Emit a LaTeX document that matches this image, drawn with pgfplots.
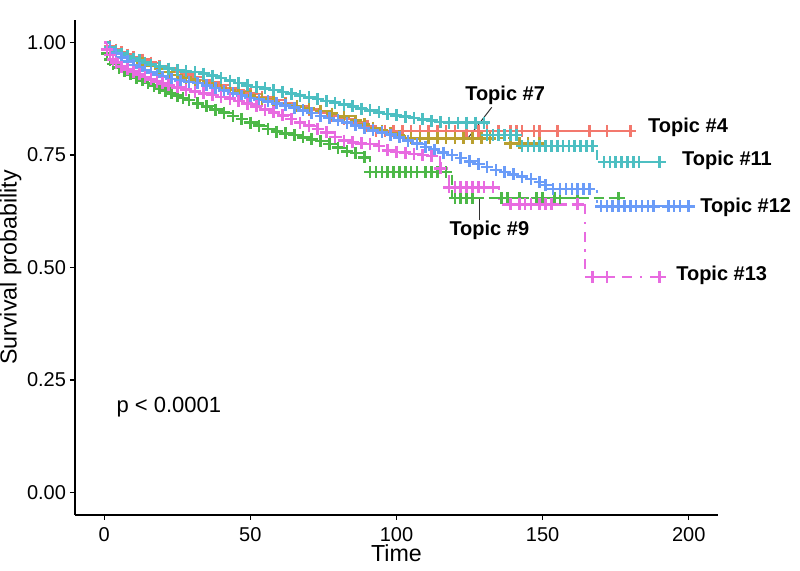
\documentclass[border=0pt]{standalone}
\usepackage{fontspec}
\setmainfont{Liberation Sans}
\usepackage{pgfplots}
\usepackage{pgfplotstable}
\pgfplotsset{compat=1.18}
\definecolor{cA}{HTML}{F3786D}
\definecolor{cB}{HTML}{B9A030}
\definecolor{cC}{HTML}{4DB848}
\definecolor{cD}{HTML}{4DBFC2}
\definecolor{cE}{HTML}{6B9CF8}
\definecolor{cF}{HTML}{E86BE0}

% Topic #4
\pgfplotstableread{
t s c
0 1.000 0
2 0.992 1
4 0.984 1
6 0.978 1
8 0.973 1
10 0.968 1
13 0.962 1
16 0.955 1
19 0.948 1
22 0.942 1
25 0.935 1
28 0.929 1
31 0.923 1
34 0.917 1
37 0.911 1
40 0.905 1
43 0.899 1
46 0.893 1
50 0.886 1
54 0.879 1
58 0.872 1
62 0.865 1
66 0.858 1
70 0.851 1
74 0.844 1
78 0.837 1
82 0.830 1
86 0.822 1
90 0.814 1
93 0.803 1
96 0.803 1
99 0.803 1
102 0.803 1
105 0.803 1
108 0.803 1
111 0.803 1
114 0.803 1
117 0.803 1
120 0.803 1
124 0.803 1
128 0.803 1
131 0.803 1
135 0.803 1
139 0.803 1
141 0.803 1
143 0.803 1
147 0.803 1
149 0.803 1
155 0.803 1
166 0.803 1
172 0.803 1
180 0.803 1
}\tfour

% Topic #7
\pgfplotstableread{
t s c
0 1.000 0
2 0.990 1
4 0.982 1
6 0.975 1
8 0.968 1
10 0.962 1
13 0.955 1
16 0.948 1
19 0.941 1
22 0.934 1
25 0.928 1
28 0.922 1
31 0.916 1
34 0.910 1
37 0.904 1
40 0.899 1
43 0.894 1
46 0.889 1
50 0.882 1
54 0.875 1
58 0.868 1
62 0.863 1
66 0.858 1
70 0.853 1
74 0.848 1
78 0.842 1
82 0.836 1
86 0.826 1
89 0.818 1
92 0.810 1
95 0.804 1
98 0.798 1
101 0.793 1
105 0.788 1
108 0.787 1
111 0.787 1
114 0.787 1
117 0.787 1
120 0.787 1
123 0.787 1
126 0.787 1
129 0.787 1
132 0.787 1
139 0.776 1
142 0.776 1
145 0.776 1
149 0.776 1
}\tseven

% Topic #9
\pgfplotstableread{
t s c
0 1.000 0
1 0.975 1
2 0.962 1
3 0.952 1
5 0.944 1
7 0.936 1
9 0.929 1
11 0.922 1
13 0.916 1
15 0.910 1
17 0.904 1
19 0.898 1
21 0.892 1
23 0.887 1
25 0.882 1
27 0.877 1
29 0.872 1
32 0.865 1
35 0.858 1
38 0.851 1
41 0.844 1
44 0.837 1
47 0.830 1
50 0.822 1
53 0.815 1
56 0.808 1
59 0.802 1
62 0.798 1
65 0.794 1
68 0.789 1
71 0.785 1
74 0.781 1
77 0.774 1
80 0.766 1
83 0.758 1
86 0.754 1
89 0.745 1
91 0.712 1
93 0.712 1
95 0.712 1
97 0.712 1
99 0.712 1
101 0.712 1
103 0.712 1
105 0.712 1
107 0.712 1
110 0.712 1
112 0.712 1
114 0.712 1
117 0.712 1
119 0.654 0
120 0.654 1
122 0.654 1
124 0.654 1
126 0.654 1
136 0.654 1
138 0.654 1
142 0.654 1
148 0.654 1
150 0.654 1
154 0.654 1
156 0.654 1
162 0.654 1
176 0.654 1
}\tnine

% Topic #11
\pgfplotstableread{
t s c
0 1.000 0
2 0.990 1
4 0.982 1
6 0.975 1
8 0.969 1
10 0.964 1
12 0.960 1
14 0.955 1
16 0.951 1
19 0.946 1
22 0.942 1
25 0.939 1
28 0.936 1
31 0.934 1
34 0.931 1
37 0.926 1
40 0.921 1
43 0.915 1
46 0.910 1
49 0.905 1
52 0.901 1
55 0.898 1
58 0.894 1
61 0.890 1
64 0.886 1
67 0.882 1
70 0.878 1
73 0.874 1
76 0.870 1
79 0.866 1
82 0.862 1
85 0.858 1
88 0.853 1
91 0.849 1
94 0.845 1
97 0.841 1
100 0.838 1
103 0.835 1
106 0.832 1
109 0.829 1
112 0.826 1
115 0.823 1
118 0.822 1
121 0.822 1
124 0.822 1
127 0.822 1
130 0.822 1
131 0.794 1
133 0.794 1
135 0.794 1
137 0.794 1
139 0.794 1
141 0.794 1
143 0.770 1
145 0.770 1
147 0.770 1
149 0.770 1
151 0.770 1
153 0.770 1
155 0.770 1
157 0.770 1
159 0.770 1
161 0.770 1
163 0.770 1
165 0.770 1
167 0.770 1
168.5 0.734 0
171 0.734 1
173 0.734 1
175 0.734 1
177 0.734 1
179 0.734 1
181 0.734 1
183 0.734 1
190 0.734 1
}\televen

% Topic #12
\pgfplotstableread{
t s c
0 1.000 0
2 0.985 1
4 0.975 1
6 0.966 1
8 0.958 1
10 0.950 1
12 0.944 1
14 0.938 1
16 0.933 1
18 0.928 1
20 0.924 1
23 0.919 1
26 0.915 1
29 0.912 1
32 0.910 1
35 0.905 1
38 0.899 1
41 0.893 1
44 0.887 1
47 0.882 1
50 0.877 1
53 0.873 1
56 0.869 1
59 0.865 1
62 0.860 1
65 0.855 1
68 0.849 1
71 0.843 1
74 0.837 1
77 0.832 1
80 0.827 1
83 0.822 1
86 0.816 1
89 0.810 1
92 0.805 1
95 0.800 1
98 0.795 1
101 0.789 1
104 0.782 1
107 0.775 1
110 0.768 1
113 0.762 1
116 0.755 1
119 0.750 1
122 0.743 1
125 0.736 1
128 0.730 1
131 0.723 1
134 0.717 1
137 0.712 1
140 0.707 1
143 0.702 1
146 0.697 1
149 0.690 1
151 0.683 1
153.5 0.674 1
156 0.674 1
158 0.674 1
160 0.674 1
162 0.674 1
164 0.674 1
166 0.674 1
168.5 0.636 0
170 0.636 1
172 0.636 1
174 0.636 1
176 0.636 1
178 0.636 1
180 0.636 1
182 0.636 1
184 0.636 1
186 0.636 1
188 0.636 1
193 0.636 1
195 0.636 1
197 0.636 1
200 0.636 1
}\ttwelve

% Topic #13
\pgfplotstableread{
t s c
0 1.000 0
1 0.985 1
2 0.972 1
3 0.962 1
4 0.955 1
6 0.946 1
8 0.940 1
10 0.935 1
12 0.929 1
14 0.923 1
16 0.918 1
18 0.913 1
20 0.909 1
22 0.905 1
25 0.900 1
28 0.895 1
31 0.891 1
34 0.887 1
37 0.883 1
40 0.879 1
43 0.875 1
46 0.870 1
49 0.864 1
52 0.858 1
55 0.851 1
58 0.845 1
61 0.838 1
64 0.830 1
67 0.822 1
70 0.815 1
73 0.808 1
76 0.800 1
79 0.790 1
82 0.782 1
85 0.778 1
88 0.776 1
91 0.774 1
94 0.770 1
97 0.760 1
100 0.757 1
103 0.755 1
106 0.752 1
109 0.750 1
112 0.748 1
115 0.720 1
118 0.678 1
120 0.678 1
122 0.678 1
124 0.678 1
126 0.678 1
128 0.678 1
130 0.678 1
133 0.678 1
135 0.640 0
139 0.640 1
142 0.640 1
144 0.640 1
146 0.640 1
149 0.640 1
151 0.640 1
153 0.640 1
162 0.640 1
164.4 0.479 0
167 0.479 1
172 0.479 1
190 0.479 1
}\tthirteen

\pgfplotsset{
  curve/.style={const plot, line width=1.1pt},
  cens/.style={only marks, mark=+, mark size=3pt,
    mark options={solid, line width=1.3pt},
    restrict expr to domain={\thisrow{c}}{0.5:1.5}},
}

\begin{document}
\begin{tikzpicture}
\path[use as bounding box] (-37.5pt,-28pt) rectangle (362.5pt,257.5pt);
\begin{axis}[
  at={(0,0)}, anchor=south west,
  scale only axis, width=321.5pt, height=247.5pt,
  xmin=-10, xmax=210, ymin=-0.05, ymax=1.05,
  axis x line*=bottom, axis y line*=left,
  axis line style={-, line width=0.7pt, black},
  tick align=outside, major tick length=2.5pt,
  tick style={line width=0.7pt, black},
  xtick={0,50,100,150,200}, ytick={0,0.25,0.5,0.75,1},
  yticklabel style={xshift=1.5pt, /pgf/number format/.cd, fixed, fixed zerofill, precision=2},
  /pgf/number format/assume math mode=true,
  ticklabel style={font=\fontsize{10}{12}\selectfont, black},
  xlabel={Time}, ylabel={Survival probability},
  xlabel style={at={(axis description cs:0.5,-0.078)}, anchor=center, font=\fontsize{11.6}{14}\selectfont},
  ylabel style={at={(axis description cs:-0.1,0.5)}, anchor=center, font=\fontsize{11.6}{14}\selectfont},
  clip=false,
]
\addplot[curve, cA] table[x=t,y=s]{\tfour};
\addplot[cens, cA] table[x=t,y=s]{\tfour};
\addplot[curve, cB, dash pattern=on 2.5pt off 2.5pt] table[x=t,y=s]{\tseven};
\addplot[cens, cB] table[x=t,y=s]{\tseven};
\addplot[curve, cC, dash pattern=on 5pt off 2.5pt] table[x=t,y=s]{\tnine};
\addplot[cens, cC] table[x=t,y=s]{\tnine};
\addplot[curve, cD, dash pattern=on 5pt off 5pt] table[x=t,y=s]{\televen};
\addplot[cens, cD] table[x=t,y=s]{\televen};
\addplot[curve, cE, dash pattern=on 1.25pt off 3.75pt] table[x=t,y=s]{\ttwelve};
\addplot[cens, cE] table[x=t,y=s]{\ttwelve};
\addplot[curve, cF, dash pattern=on 1.25pt off 3.75pt on 5pt off 3.75pt] table[x=t,y=s]{\tthirteen};
\addplot[cens, cF] table[x=t,y=s]{\tthirteen};

\draw[black!80, line width=0.5pt] (axis cs:132.6,0.856) -- (axis cs:124.4,0.787);
\draw[black!80, line width=0.5pt] (axis cs:128.5,0.652) -- (axis cs:128.5,0.605);
\begin{scope}[every node/.style={anchor=west, inner sep=0pt, font=\bfseries\fontsize{10}{12}\selectfont}]
\node at (axis cs:186,0.812) {Topic \#4};
\node at (axis cs:197.6,0.738) {Topic \#11};
\node at (axis cs:203.8,0.634) {Topic \#12};
\node at (axis cs:195.6,0.483) {Topic \#13};
\node at (axis cs:123.4,0.882) {Topic \#7};
\node at (axis cs:118,0.583) {Topic \#9};
\end{scope}
\node[anchor=west, inner sep=0pt, font=\fontsize{11}{13}\selectfont] at (axis cs:4.1,0.19) {p < 0.0001};
\end{axis}
\end{tikzpicture}
\end{document}
